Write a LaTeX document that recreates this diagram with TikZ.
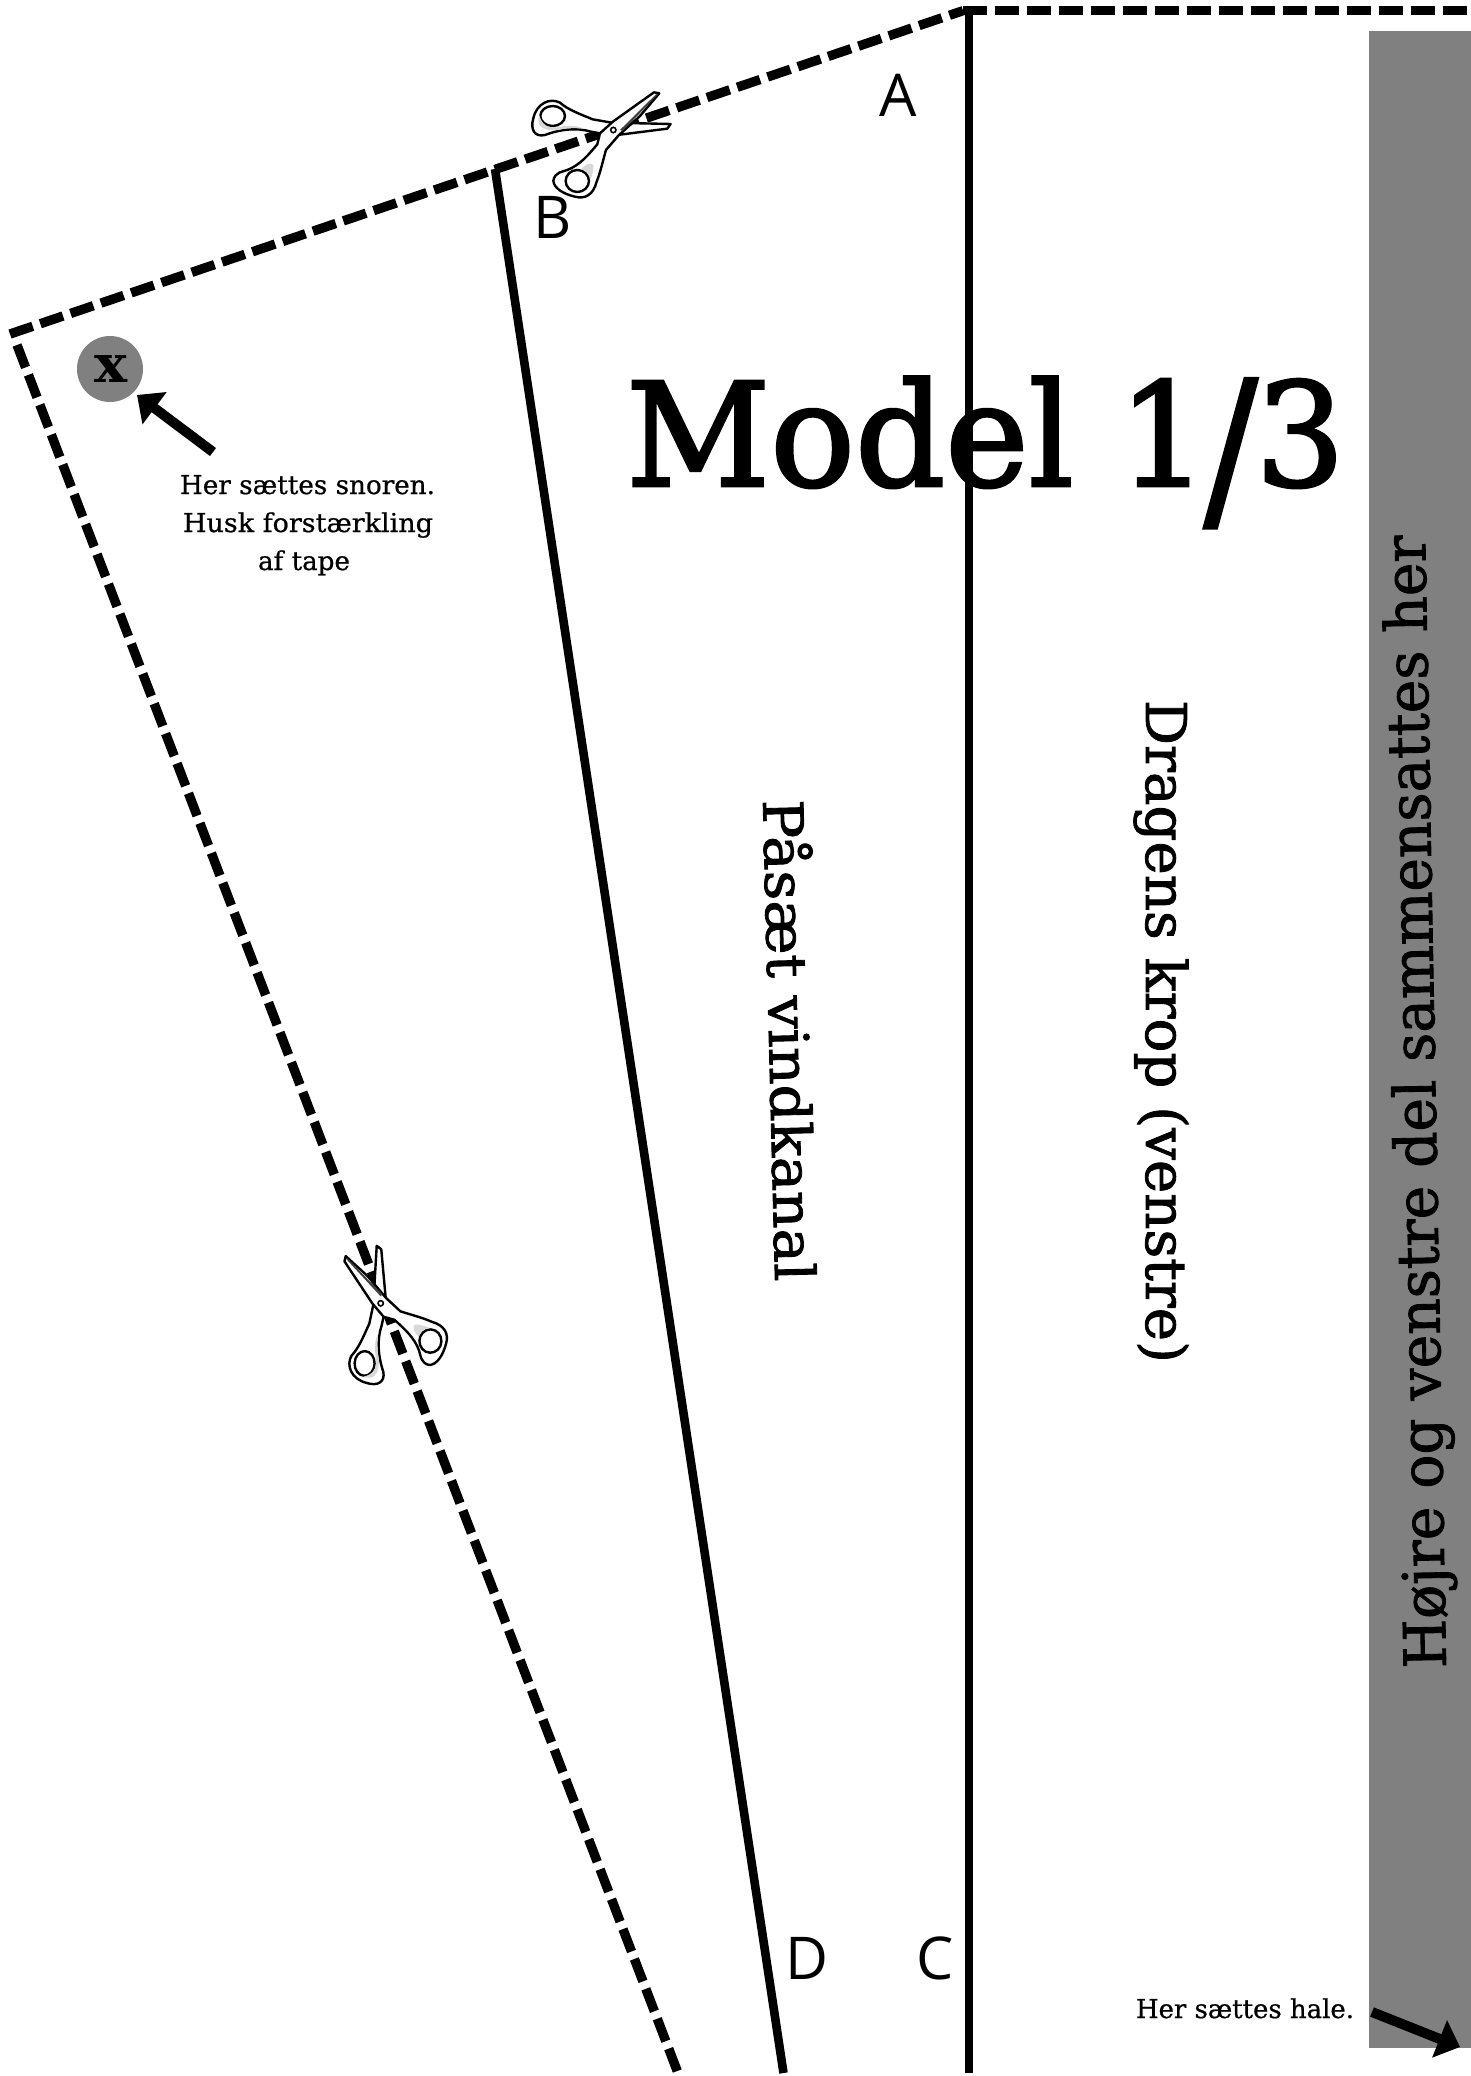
\documentclass[tikz,border=0pt]{standalone}
\usepackage{fontspec}
\setmainfont{DejaVu Serif}
\newfontfamily\lettersans{Open Sans}
\newfontfamily\modelfont[FakeBold=2]{DejaVu Serif}
\newfontfamily\midfont[FakeBold=1.5]{DejaVu Serif}
\newfontfamily\smallfont[FakeBold=0.7]{DejaVu Serif}
\usetikzlibrary{arrows.meta}
\definecolor{bargray}{HTML}{808080}
\definecolor{shadegray}{HTML}{D8D8D8}
\newcommand{\fitw}[3]{\resizebox{#1pt}{\height}{\fontsize{#2pt}{#2pt}\selectfont #3}}
\tikzset{
  txt/.style={inner sep=0pt,outer sep=0pt,anchor=base west,text=black},
  letter/.style={inner sep=0pt,outer sep=0pt,anchor=base west,font=\lettersans\fontsize{29.5pt}{30pt}\selectfont},
  cutline/.style={line width=4.7pt,dash pattern=on 12pt off 4pt,draw=black},
  foldline/.style={line width=4.3pt,draw=black},
  pointer/.style={line width=5pt,draw=black,-{Triangle[length=11pt,width=19.5pt]}},
  sciss/.style={draw=black,line width=1.2pt,fill=white,line join=round},
  scissors/.pic={
    \begin{scope}[shift={(-400,-240)}]
      % blade and handle pointing right
      \path[sciss,even odd rule] (338,208) -- (395,218) -- (572,222) -- (562,236) -- (420,254) -- (360,250) -- (333,245)
        .. controls (290,232) and (240,238) .. (195,255) .. controls (165,262) and (150,240) .. (160,205)
        .. controls (170,160) and (210,142) .. (240,158) .. controls (265,180) and (300,192) .. (338,208) -- cycle
        (218,198) ellipse [x radius=37,y radius=30];
      \fill[shadegray] (178,195) .. controls (168,225) and (185,245) .. (235,240) .. controls (255,235) and (280,232) .. (310,236) .. controls (280,222) and (255,228) .. (232,232) .. controls (205,235) and (185,225) .. (178,195) -- cycle;
      % blade and handle pointing up
      \path[sciss,even odd rule] (352,283) -- (360,250) -- (400,214) -- (522,127) -- (538,130) -- (480,198) -- (416,256) -- (378,300)
        .. controls (368,335) and (362,365) .. (350,395) .. controls (340,435) and (315,448) .. (285,440)
        .. controls (250,432) and (222,415) .. (220,392) .. controls (225,365) and (250,365) .. (262,360)
        .. controls (300,345) and (325,315) .. (352,283) -- cycle
        (292,393) ellipse [x radius=35,y radius=33];
      \fill[shadegray] (303,358) .. controls (315,345) and (330,335) .. (340,345) .. controls (342,355) and (337,375) .. (332,388) .. controls (328,368) and (318,360) .. (303,358) -- cycle;
      \fill[black!75] (420,240) -- (528,133) -- (534,133) -- (428,243) -- cycle;
      \draw[line width=0.8pt,fill=white] (400,240) circle [radius=8];
    \end{scope}
  }
}
\begin{document}
\begin{tikzpicture}[x=0.5pt,y=-0.5pt]
\useasboundingbox (0,0) rectangle (1471,2076);
\fill[white] (0,0) rectangle (1471,2076);

\coordinate (apex) at (963,10.7);
\coordinate (topright) at (1471,10.7);
\coordinate (corner) at (10,334);
\coordinate (leftstart) at (17,345);
\coordinate (leftend) at (678,2073);
\coordinate (bjoin) at (495,169);
\coordinate (dend) at (783.5,2073);
\coordinate (atop) at (969,10.7);
\coordinate (cend) at (969,2073);

\node[fill=bargray,inner sep=0pt,outer sep=0pt,minimum width=51pt,minimum height=1008.5pt,anchor=north west] (bar) at (1369,31) {};

\draw[foldline] (atop) -- (cend);
\draw[foldline] (bjoin) -- (dend);
\draw[cutline] (corner) -- (apex);
\draw[cutline] (apex) -- (topright);
\draw[cutline] (leftstart) -- (leftend);

\node[circle,fill=bargray,minimum size=33pt,inner sep=0pt] (hole) at (110,369) {};
\node[txt] (xmark) at (94,382) {\fitw{16.5}{26}{\bfseries x}};

\node[txt] (model) at (626,486) {\fitw{359.5}{72}{\modelfont Model 1\kern-2pt\raisebox{-12.5pt}{\scalebox{1.12}[1.26]{/}}\kern-1pt 3}};

\node[txt] (snor1) at (180,494) {\fitw{127.5}{13}{\smallfont Her sættes snoren.}};
\node[txt] (snor2) at (183,532) {\fitw{125}{13}{\smallfont Husk forstærkling}};
\node[txt] (snor3) at (258,570) {\fitw{46}{13}{\smallfont af tape}};
\node[txt] (hale) at (1136,2018) {\fitw{109}{13}{\smallfont Her sættes hale.}};

\node[txt,rotate=-88.55] (kanal) at (763,800) {\fitw{241}{27.5}{\midfont Påsæt vindkanal}};
\node[txt,rotate=-90] (krop) at (1146,700) {\fitw{331.5}{28}{\midfont Dragens krop (venstre)}};
\node[txt,rotate=91.06] (sammen) at (1446,1668) {\fitw{566.5}{29}{\midfont Højre og venstre del sammensattes her}};

\node[letter] (la) at (879,116.7) {A};
\node[letter] (lb) at (533,239) {B};
\node[letter] (lc) at (916,1979) {C};
\node[letter] (ld) at (785,1979) {D};

\coordinate (p1s) at (213,452);
\coordinate (p1e) at (137,395);
\coordinate (p2s) at (1372,2012);
\coordinate (p2e) at (1460,2047);
\draw[pointer] (p1s) -- (p1e);
\draw[pointer] (p2s) -- (p2e);

\pic[scale=1/3] at (613.3,130) {scissors};
\pic[scale=1/3,rotate=88] at (380.7,1303.3) {scissors};
\end{tikzpicture}
\end{document}
